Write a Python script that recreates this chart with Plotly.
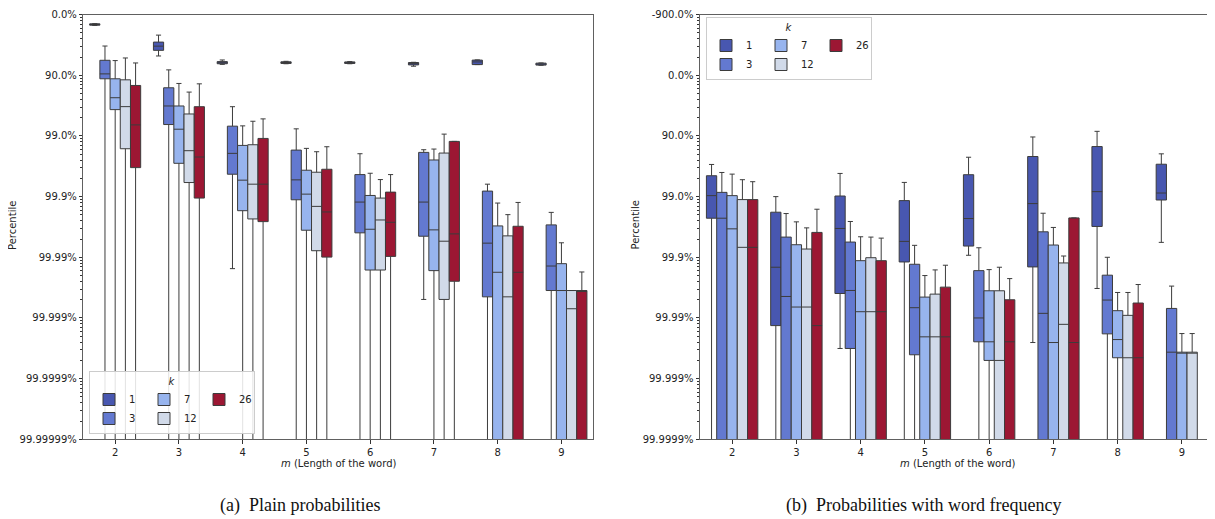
import math
import plotly.graph_objects as go

# ---------------- data ----------------
# values are "number of nines": v = -log10(1 - percentile)
# INF marks a value beyond the bottom of the axis (percentile -> 100%)
INF = 9.0

m_labels = ["2", "3", "4", "5", "6", "7", "8", "9"]
k_values = [1, 3, 7, 12, 26]
k_colors = ["#4857b0", "#6379d0", "#97b4ee", "#d1dae9", "#9c1733"]
line_color = "#3c3c3c"

ticks_a = ["0.0%", "90.0%", "99.0%", "99.9%", "99.99%", "99.999%", "99.9999%", "99.99999%"]
ticks_b = ["-900.0%", "0.0%", "90.0%", "99.0%", "99.9%", "99.99%", "99.999%", "99.9999%"]

# (a) Plain probabilities: top whisker, box top, median, box bottom, bottom whisker
a1_lo = [0.150, 0.338, 0.748, 0.770, 0.775, 0.786, 0.747, 0.797]
a1_q1 = [0.152, 0.453, 0.775, 0.778, 0.780, 0.790, 0.750, 0.800]
a1_md = [0.164, 0.520, 0.797, 0.790, 0.792, 0.808, 0.780, 0.813]
a1_q3 = [0.174, 0.589, 0.810, 0.805, 0.805, 0.829, 0.824, 0.832]
a1_hi = [0.178, 0.682, 0.820, 0.810, 0.810, 0.851, 0.824, 0.835]

a3_lo = [0.518, 0.911, 1.518, 1.883, 2.293, 2.227, 2.795, 3.260]
a3_q1 = [0.753, 1.206, 1.839, 2.233, 2.637, 2.271, 2.909, 3.466]
a3_md = [0.977, 1.506, 2.287, 2.724, 3.090, 3.090, 3.767, 4.144]
a3_q3 = [1.058, 1.812, 2.631, 3.052, 3.597, 3.653, 4.652, 4.548]
a3_hi = [INF, INF, 4.187, INF, INF, 4.695, INF, INF]

a7_lo = [0.758, 1.135, 1.834, 2.205, 2.615, 2.216, 3.106, 3.761]
a7_q1 = [1.058, 1.506, 2.156, 2.565, 2.981, 2.396, 3.483, 4.105]
a7_md = [1.370, 1.889, 2.729, 2.959, 3.538, 3.548, 4.247, 4.548]
a7_q3 = [1.566, 2.451, 3.232, 3.554, 4.210, 4.220, INF, INF]
a7_hi = [INF, INF, INF, INF, INF, INF, INF, INF]

a12_lo = [0.715, 1.277, 1.758, 2.260, 2.719, 1.970, 3.297, 4.548]
a12_q1 = [1.075, 1.638, 2.145, 2.598, 3.024, 2.282, 3.647, 4.548]
a12_md = [1.517, 2.243, 2.795, 3.161, 3.385, 3.735, 4.652, 4.848]
a12_q3 = [2.211, 2.768, 3.368, 3.892, 4.210, 4.695, INF, INF]
a12_hi = [INF, INF, INF, INF, INF, INF, INF, INF]

a26_lo = [0.797, 1.141, 1.719, 2.178, 2.637, 2.090, 3.096, 4.242]
a26_q1 = [1.168, 1.518, 2.041, 2.549, 2.926, 2.090, 3.489, 4.548]
a26_md = [1.818, 2.347, 2.795, 3.253, 3.423, 3.614, 4.247, 4.548]
a26_q3 = [2.522, 3.024, 3.412, 3.997, 3.985, 4.395, INF, INF]
a26_hi = [INF, INF, INF, INF, INF, INF, INF, INF]

# (b) Probabilities with word frequency
b1_lo = [1.470, 2.000, 1.618, 1.766, 1.351, 1.017, 0.924, 1.295]
b1_q1 = [1.656, 2.257, 1.990, 2.066, 1.639, 1.339, 1.175, 1.466]
b1_md = [1.984, 3.164, 2.525, 2.738, 2.361, 2.115, 1.918, 1.941]
b1_q3 = [2.356, 4.126, 3.597, 3.077, 2.815, 3.159, 2.492, 2.056]
b1_hi = [INF, INF, 4.503, INF, 2.967, 4.405, 3.514, 2.754]

b3_lo = [1.602, 2.279, 2.410, 2.803, 2.843, 2.274, 3.000, 3.475]
b3_q1 = [1.930, 2.667, 2.749, 3.115, 3.220, 2.580, 3.295, 3.843]
b3_md = [2.356, 3.646, 3.547, 3.831, 4.000, 3.924, 3.705, 4.564]
b3_q3 = [INF, INF, 4.503, 4.607, 4.393, INF, 4.262, INF]
b3_hi = [INF, INF, INF, INF, INF, INF, INF, INF]

b7_lo = [1.629, 2.416, 2.662, 3.301, 3.203, 2.508, 3.580, 4.257]
b7_q1 = [1.984, 2.793, 3.056, 3.656, 3.552, 2.798, 3.880, 4.564]
b7_md = [2.531, 3.820, 3.897, 4.311, 4.393, 4.405, 4.356, 4.564]
b7_q3 = [INF, INF, INF, INF, 4.700, INF, 4.656, INF]
b7_hi = [INF, INF, INF, INF, INF, INF, INF, INF]

b12_lo = [1.721, 2.515, 2.667, 3.208, 3.164, 2.979, 3.580, 4.257]
b12_q1 = [2.049, 2.864, 3.007, 3.607, 3.552, 3.093, 3.957, 4.564]
b12_md = [2.836, 3.820, 3.897, 4.311, 4.700, 4.105, 4.656, 4.564]
b12_q3 = [INF, INF, INF, INF, INF, INF, INF, INF]
b12_hi = [INF, INF, INF, INF, INF, INF, INF, INF]

b26_lo = [1.754, 2.208, 2.684, 3.131, 3.351, 2.351, 3.449, None]
b26_q1 = [2.049, 2.590, 3.056, 3.492, 3.700, 2.351, 3.754, None]
b26_md = [2.836, 4.126, 3.897, 4.311, 4.393, 4.405, 4.656, None]
b26_q3 = [INF, INF, INF, INF, INF, INF, INF, None]
b26_hi = [INF, INF, INF, INF, INF, INF, INF, None]

stats_a = {
    1: (a1_lo, a1_q1, a1_md, a1_q3, a1_hi),
    3: (a3_lo, a3_q1, a3_md, a3_q3, a3_hi),
    7: (a7_lo, a7_q1, a7_md, a7_q3, a7_hi),
    12: (a12_lo, a12_q1, a12_md, a12_q3, a12_hi),
    26: (a26_lo, a26_q1, a26_md, a26_q3, a26_hi),
}
stats_b = {
    1: (b1_lo, b1_q1, b1_md, b1_q3, b1_hi),
    3: (b3_lo, b3_q1, b3_md, b3_q3, b3_hi),
    7: (b7_lo, b7_q1, b7_md, b7_q3, b7_hi),
    12: (b12_lo, b12_q1, b12_md, b12_q3, b12_hi),
    26: (b26_lo, b26_q1, b26_md, b26_q3, b26_hi),
}
legend_cols = {1: "c1", 3: "c1", 7: "c2", 12: "c2", 26: "c3"}

# ---------------- layout helpers ----------------
# the page has an 8px body margin, so the figure is drawn 8px in from the corner
OFF = 8
W, H = 1215 - OFF, 519 - OFF


def fx(px):
    return (px - OFF) / W


def fy(py):
    return 1 - (py - OFF) / H


FONT = "DejaVu Sans"
TXT = "#222222"
SPINE = "#606060"

fig = go.Figure()

for panel, stats, xa, ya, lg in [("a", stats_a, "x", "y", "legend"),
                                 ("b", stats_b, "x2", "y2", "legend2")]:
    for k, col in zip(k_values, k_colors):
        lo, q1, md, q3, hi = stats[k]
        idx = [i for i in range(len(m_labels)) if md[i] is not None]
        fig.add_trace(go.Box(
            x=[m_labels[i] for i in idx],
            lowerfence=[lo[i] for i in idx],
            q1=[q1[i] for i in idx],
            median=[md[i] for i in idx],
            q3=[q3[i] for i in idx],
            upperfence=[hi[i] for i in idx],
            name=str(k),
            fillcolor=col,
            marker=dict(color=col),
            line=dict(color=line_color, width=1),
            whiskerwidth=0.5,
            boxpoints=False,
            xaxis=xa, yaxis=ya,
            offsetgroup=str(k),
            alignmentgroup=panel,
            legend=lg,
            legendgroup=panel + legend_cols[k],
            showlegend=True,
        ))


def minor_vals(d0, d1):
    vals = []
    for d in range(d0, d1):
        for j in range(9, 1, -1):
            vals.append(d + 1 - math.log10(j))
    return vals


yaxis_common = dict(
    showline=True, mirror=True, linecolor=SPINE, linewidth=1,
    ticks="outside", ticklen=3.5, tickwidth=1, tickcolor="#333333",
    tickmode="array", showgrid=False, zeroline=False,
    tickfont=dict(family=FONT, size=10, color=TXT),
    automargin=False, ticklabeloverflow="allow",
)
xaxis_common = dict(
    type="category", range=[-0.5, 7.5],
    showline=True, mirror=True, linecolor=SPINE, linewidth=1,
    ticks="outside", ticklen=3.5, tickwidth=1, tickcolor="#333333",
    showgrid=False, zeroline=False,
    tickfont=dict(family=FONT, size=10, color=TXT),
    automargin=False,
    categoryorder="array", categoryarray=m_labels,
)

y_top, y_bot = 14.6, 439.3

legend_common = dict(
    orientation="h", traceorder="grouped", entrywidth=10,
    bgcolor="rgba(255,255,255,0.85)", bordercolor="#cccccc", borderwidth=1,
    font=dict(family=FONT, size=10, color=TXT),
    itemwidth=30,
)

fig.update_layout(
    width=W, height=H,
    margin=dict(l=0, r=0, t=0, b=0),
    template="none",
    paper_bgcolor="white", plot_bgcolor="white",
    boxmode="group", boxgap=0.2, boxgroupgap=0.0,
    xaxis=dict(domain=[fx(83.3), fx(593.3)], anchor="y", **xaxis_common),
    yaxis=dict(domain=[fy(y_bot), fy(y_top)], anchor="x", range=[7, 0],
               tickvals=list(range(0, 8)), ticktext=ticks_a,
               minor=dict(tickvals=minor_vals(0, 7), ticklen=2, tickwidth=0.8,
                          tickcolor="#333333", ticks="outside"),
               **yaxis_common),
    xaxis2=dict(domain=[fx(700.0), min(1.0, fx(1214.0))], anchor="y2", **xaxis_common),
    yaxis2=dict(domain=[fy(y_bot), fy(y_top)], anchor="x2", range=[6, -1],
                tickvals=list(range(-1, 7)), ticktext=ticks_b,
                minor=dict(tickvals=minor_vals(-1, 6), ticklen=2, tickwidth=0.8,
                           tickcolor="#333333", ticks="outside"),
                **yaxis_common),
    legend=dict(x=fx(89), y=fy(434), xanchor="left", yanchor="bottom",
                title=dict(text="<i>k</i>", side="top center",
                           font=dict(family=FONT, size=10, color=TXT)),
                **legend_common),
    legend2=dict(x=fx(706), y=fy(17), xanchor="left", yanchor="top",
                 title=dict(text="<i>k</i>", side="top center",
                            font=dict(family=FONT, size=10, color=TXT)),
                 **legend_common),
    showlegend=True,
)

annots = [
    dict(text="Percentile", x=fx(12.5), y=fy(225.5), textangle=-90,
         font=dict(family=FONT, size=10, color=TXT)),
    dict(text="Percentile", x=fx(635.0), y=fy(225.5), textangle=-90,
         font=dict(family=FONT, size=10, color=TXT)),
    dict(text="<i>m</i> (Length of the word)", x=fx(338.3), y=fy(463),
         font=dict(family=FONT, size=10, color=TXT)),
    dict(text="<i>m</i> (Length of the word)", x=fx(957.5), y=fy(463),
         font=dict(family=FONT, size=10, color=TXT)),
    dict(text="(a)\u00a0 Plain probabilities", x=fx(300), y=fy(505),
         font=dict(family="Liberation Serif", size=18, color="#111111")),
    dict(text="(b)\u00a0 Probabilities with word frequency", x=fx(923), y=fy(505),
         font=dict(family="Liberation Serif", size=18, color="#111111")),
]
for a in annots:
    fig.add_annotation(xref="paper", yref="paper", showarrow=False,
                       xanchor="center", yanchor="middle", **a)

fig.write_html("out.html")
